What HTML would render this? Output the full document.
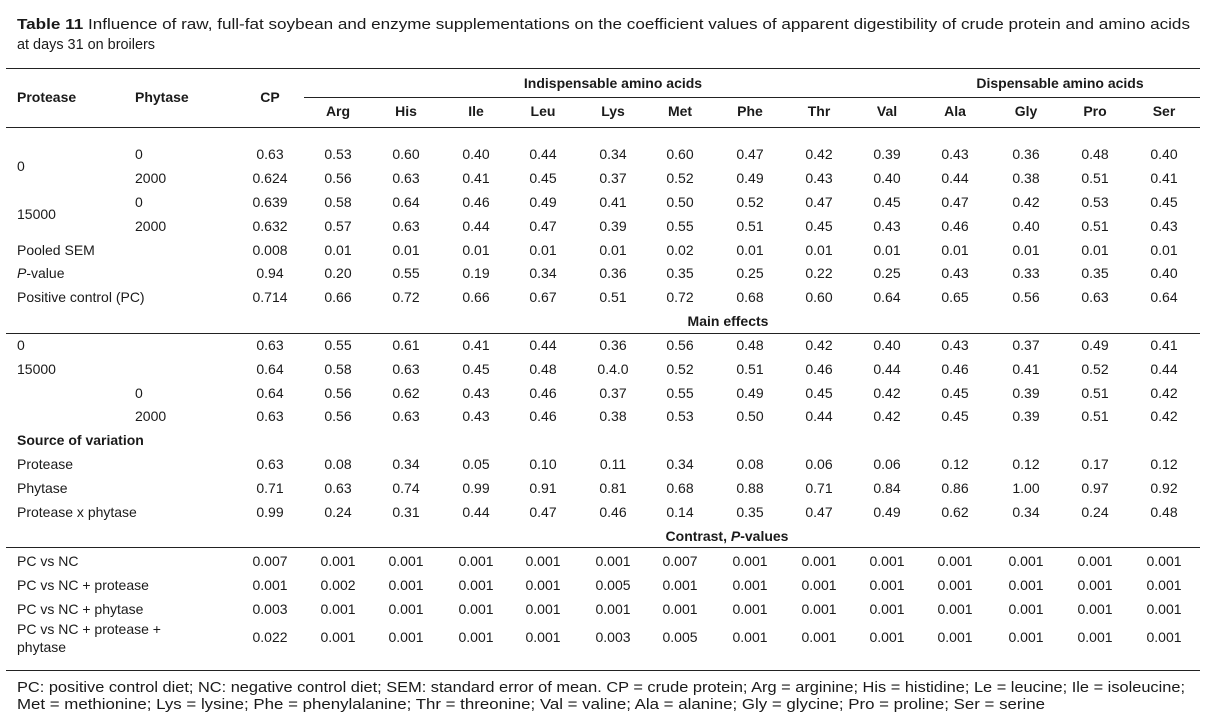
<!DOCTYPE html>
<html><head><meta charset="utf-8">
<style>
body{margin:0;width:1217px;height:724px;background:#fff;position:relative;overflow:hidden;font-family:"Liberation Sans",Arial,sans-serif;color:#1a1a1a}
.t{position:absolute;font-size:14px;white-space:nowrap;line-height:16px}
.c{transform:translateX(-50%)}
.b{font-weight:bold}
.ln{position:absolute;height:1px;background:#222}
.fit{display:block;white-space:nowrap;transform-origin:0 0;width:max-content}
</style></head><body>
<div class="t" style="left:17px;top:15px;font-size:15px;line-height:20px"><span class="fit" data-w="1173"><b>Table 11</b> Influence of raw, full-fat soybean and enzyme supplementations on the coefficient values of apparent digestibility of crude protein and amino acids</span><span class="fit" data-w="138">at days 31 on broilers</span></div>
<div class="ln" style="left:6px;width:1194px;top:68px"></div>
<div class="ln" style="left:304px;width:896px;top:97px"></div>
<div class="ln" style="left:6px;width:1194px;top:127px"></div>
<div class="ln" style="left:6px;width:1194px;top:333px"></div>
<div class="ln" style="left:6px;width:1194px;top:547px"></div>
<div class="ln" style="left:6px;width:1194px;top:670px"></div>
<div class="t b" style="left:17px;top:89px">Protease</div>
<div class="t b" style="left:135px;top:89px">Phytase</div>
<div class="t b c" style="left:270px;top:89px">CP</div>
<div class="t b c" style="left:613px;top:75px">Indispensable amino acids</div>
<div class="t b c" style="left:1060px;top:75px">Dispensable amino acids</div>
<div class="t b c" style="left:728px;top:313px">Main effects</div>
<div class="t b c" style="left:727px;top:528px">Contrast, <i>P</i>-values</div>
<div class="t b" style="left:17px;top:432px">Source of variation</div>
<div class="t" style="left:17px;top:680px;line-height:17px;font-size:14.5px"><span class="fit" data-w="1168">PC: positive control diet; NC: negative control diet; SEM: standard error of mean. CP = crude protein; Arg = arginine; His = histidine; Le = leucine; Ile = isoleucine;</span><span class="fit" data-w="1028">Met = methionine; Lys = lysine; Phe = phenylalanine; Thr = threonine; Val = valine; Ala = alanine; Gly = glycine; Pro = proline; Ser = serine</span></div>
<div id="tbl"></div>
<script>
const cols=["Arg","His","Ile","Leu","Lys","Met","Phe","Thr","Val","Ala","Gly","Pro","Ser"];
const colX=[270,338,406,476,543,613,680,750,819,887,955,1026,1095,1164];
const rows=[
["",  "0","0.63","0.53","0.60","0.40","0.44","0.34","0.60","0.47","0.42","0.39","0.43","0.36","0.48","0.40",154],
["",  "2000","0.624","0.56","0.63","0.41","0.45","0.37","0.52","0.49","0.43","0.40","0.44","0.38","0.51","0.41",178],
["",  "0","0.639","0.58","0.64","0.46","0.49","0.41","0.50","0.52","0.47","0.45","0.47","0.42","0.53","0.45",202],
["",  "2000","0.632","0.57","0.63","0.44","0.47","0.39","0.55","0.51","0.45","0.43","0.46","0.40","0.51","0.43",226],
["Pooled SEM","","0.008","0.01","0.01","0.01","0.01","0.01","0.02","0.01","0.01","0.01","0.01","0.01","0.01","0.01",250],
["<i>P</i>-value","","0.94","0.20","0.55","0.19","0.34","0.36","0.35","0.25","0.22","0.25","0.43","0.33","0.35","0.40",273],
["Positive control (PC)","","0.714","0.66","0.72","0.66","0.67","0.51","0.72","0.68","0.60","0.64","0.65","0.56","0.63","0.64",297],
["0","","0.63","0.55","0.61","0.41","0.44","0.36","0.56","0.48","0.42","0.40","0.43","0.37","0.49","0.41",345],
["15000","","0.64","0.58","0.63","0.45","0.48","0.4.0","0.52","0.51","0.46","0.44","0.46","0.41","0.52","0.44",369],
["","0","0.64","0.56","0.62","0.43","0.46","0.37","0.55","0.49","0.45","0.42","0.45","0.39","0.51","0.42",393],
["","2000","0.63","0.56","0.63","0.43","0.46","0.38","0.53","0.50","0.44","0.42","0.45","0.39","0.51","0.42",416],
["Protease","","0.63","0.08","0.34","0.05","0.10","0.11","0.34","0.08","0.06","0.06","0.12","0.12","0.17","0.12",464],
["Phytase","","0.71","0.63","0.74","0.99","0.91","0.81","0.68","0.88","0.71","0.84","0.86","1.00","0.97","0.92",488],
["Protease x phytase","","0.99","0.24","0.31","0.44","0.47","0.46","0.14","0.35","0.47","0.49","0.62","0.34","0.24","0.48",512],
["PC vs NC","","0.007","0.001","0.001","0.001","0.001","0.001","0.007","0.001","0.001","0.001","0.001","0.001","0.001","0.001",561],
["PC vs NC + protease","","0.001","0.002","0.001","0.001","0.001","0.005","0.001","0.001","0.001","0.001","0.001","0.001","0.001","0.001",585],
["PC vs NC + phytase","","0.003","0.001","0.001","0.001","0.001","0.001","0.001","0.001","0.001","0.001","0.001","0.001","0.001","0.001",609],
["PC vs NC + protease +<br>phytase","","0.022","0.001","0.001","0.001","0.001","0.003","0.005","0.001","0.001","0.001","0.001","0.001","0.001","0.001",637]
];
const tbl=document.getElementById('tbl');
function add(html,x,y,cls,name){
  const d=document.createElement('div');
  d.className='t '+cls;d.innerHTML=html;d.style.left=x+'px';d.style.top=(y-8)+'px';
  
  
  tbl.appendChild(d);
}
cols.forEach((c,i)=>add(c,colX[i+1],111,'b c','col-header-'+c.toLowerCase()));
add('0',17,166,'','protease-0-label');
add('15000',17,214,'','protease-15000-label');
rows.forEach((r,ri)=>{
  const y=r[16];
  if(r[0]){const d=r[0].includes('<br>');add(r[0],17,d?y-9:y,'','row-label-'+ri);if(d)tbl.lastChild.style.lineHeight='18px';}
  if(r[1])add(r[1],135,y,'','phytase-level-'+ri);
  for(let i=0;i<14;i++)add(r[2+i],colX[i],y,'c','cell-'+ri+'-'+i);
});
document.querySelectorAll('.fit').forEach(s=>{
  const w=s.getBoundingClientRect().width;const t=+s.dataset.w;
  if(w>0)s.style.transform='scaleX('+(t/w)+')';
});
</script>
</body></html>
